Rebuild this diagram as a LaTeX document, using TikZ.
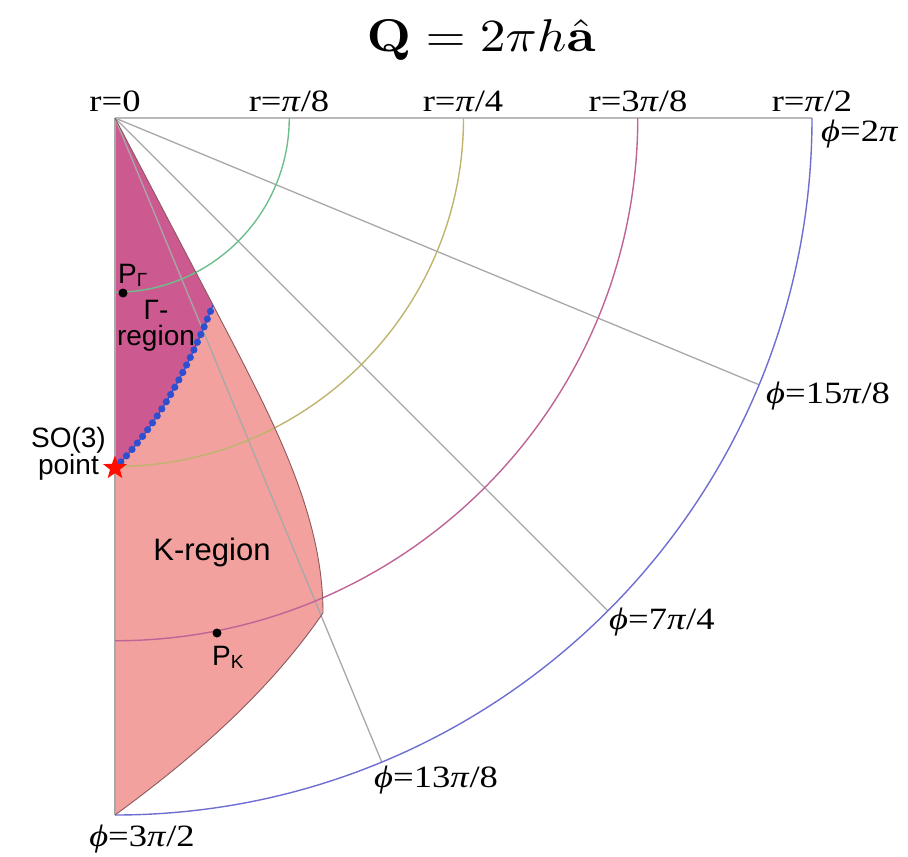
\documentclass[tikz,border=0pt]{standalone}
\usepackage[no-math]{fontspec}
\setmainfont{Liberation Serif}
\newfontfamily\sansf{Liberation Sans}
\usepackage{graphicx}
\usetikzlibrary{shapes.geometric}
\definecolor{gfill}{HTML}{CC5A90}
\definecolor{kfill}{HTML}{F2A19E}
\definecolor{edgec}{HTML}{8A5A5E}
\definecolor{gridc}{HTML}{A8A8A8}
\definecolor{arcA}{HTML}{6EBE8C}
\definecolor{arcB}{HTML}{BEB46E}
\definecolor{arcC}{HTML}{BE6496}
\definecolor{arcD}{HTML}{6E6ED2}
\definecolor{dotblue}{HTML}{2E4FD0}
\newcommand{\xwide}[1]{\scalebox{1.18}[1]{#1}}
\tikzset{
  gridline/.style={draw=gridc, line width=1.3pt},
  rarc/.style={line width=1.4pt},
  serlab/.style={font=\fontsize{31}{33}\selectfont, inner sep=0pt},
  sanlab/.style={font=\sansf\fontsize{28}{26}\selectfont, inner sep=0pt},
  ptdot/.style={circle, fill=black, inner sep=0pt, minimum size=9pt},
}
\begin{document}
\begin{tikzpicture}[x=1pt,y=-1pt]
\useasboundingbox (0,0) rectangle (908,857);
\coordinate (O) at (115,118);
\coordinate (J) at (213,305);
\coordinate (C) at (323,613);
\coordinate (B) at (115,815);
\coordinate (S) at (115,468);
% regions
\fill[gfill] (O) -- (J) .. controls (190,364) and (160,423) .. (S) -- cycle;
\fill[kfill] (J) .. controls (273,420) and (323,513) .. (C)
  .. controls (268,693) and (193,758) .. (B) -- (S)
  .. controls (160,423) and (190,364) .. (J) -- cycle;
% grid
\draw[gridline] (O) -- ++(22.5:697) coordinate (e1);
\draw[gridline] (O) -- ++(45:697) coordinate (e2);
\draw[gridline] (O) -- ++(67.5:697) coordinate (e3);
\draw[gridline, draw=gridc!80] (O) -- (812,118) coordinate (e0);
\draw[gridline] (O) -- (B);
% arcs
\draw[rarc, arcA] (O) ++(0:174.25) arc[start angle=0, end angle=90, radius=174.25];
\draw[rarc, arcB] (O) ++(0:348.5) arc[start angle=0, end angle=90, radius=348.5];
\draw[rarc, arcC] (O) ++(0:522.75) arc[start angle=0, end angle=90, radius=522.75];
\draw[rarc, arcD] (O) ++(0:697) arc[start angle=0, end angle=90, radius=697];
% region outline
\draw[edgec, line width=0.9pt] (O) -- (J) .. controls (273,420) and (323,513) .. (C)
  .. controls (268,693) and (193,758) .. (B);
% blue dotted boundary
\draw[dotblue, line width=1.2pt] (S) .. controls (160,423) and (190,364) .. (J);
\draw[dotblue, line width=7.2pt, line cap=round, dash pattern=on 0pt off 8.4pt]
  (S) .. controls (160,423) and (190,364) .. (J);
% star and points
\node[star, star points=5, star point ratio=2.4, fill=red!90!orange, inner sep=0pt, minimum size=25pt] (so3) at (S) {};
\node[ptdot] (pg) at (123,293) {};
\node[ptdot] (pk) at (217,633) {};
% title
\node (title) at (481,40) {\scalebox{5.15}[4.6]{$\mathbf{Q}=2\pi h\hat{\mathbf{a}}$}};
% r labels
\node[serlab] (l0) at (115,101) {\xwide{r=0}};
\node[serlab] (l1) at (289,101) {\xwide{r=\textit{π}/8}};
\node[serlab] (l2) at (463,101) {\xwide{r=\textit{π}/4}};
\node[serlab] (l3) at (638,101) {\xwide{r=3\textit{π}/8}};
\node[serlab] (l4) at (812,101) {\xwide{r=\textit{π}/2}};
% phi labels
\node[serlab, anchor=west] (p0) at (821,134) {\xwide{\textit{ϕ}=2\textit{π}}};
\node[serlab, anchor=west] (p1) at (766,396) {\xwide{\textit{ϕ}=15\textit{π}/8}};
\node[serlab, anchor=west] (p2) at (609,622) {\xwide{\textit{ϕ}=7\textit{π}/4}};
\node[serlab, anchor=west] (p3) at (374,780) {\xwide{\textit{ϕ}=13\textit{π}/8}};
\node[serlab] (p4) at (142,839) {\xwide{\textit{ϕ}=3\textit{π}/2}};
% sans labels
\node[sanlab, anchor=base west] (tg) at (118,283) {P\raisebox{-3pt}{\fontsize{19}{20}\selectfont Γ}};
\node[sanlab, align=center] (rg) at (156,326) {Γ-\\region};
\node[sanlab, align=center, anchor=east] (so) at (106,454) {SO(3)\\point};
\node[sanlab, font=\sansf\fontsize{31}{30}\selectfont] (kr) at (212,552) {K-region};
\node[sanlab, anchor=base west] (tk) at (212,665) {P\raisebox{-3pt}{\fontsize{19}{20}\selectfont K}};
\end{tikzpicture}
\end{document}
